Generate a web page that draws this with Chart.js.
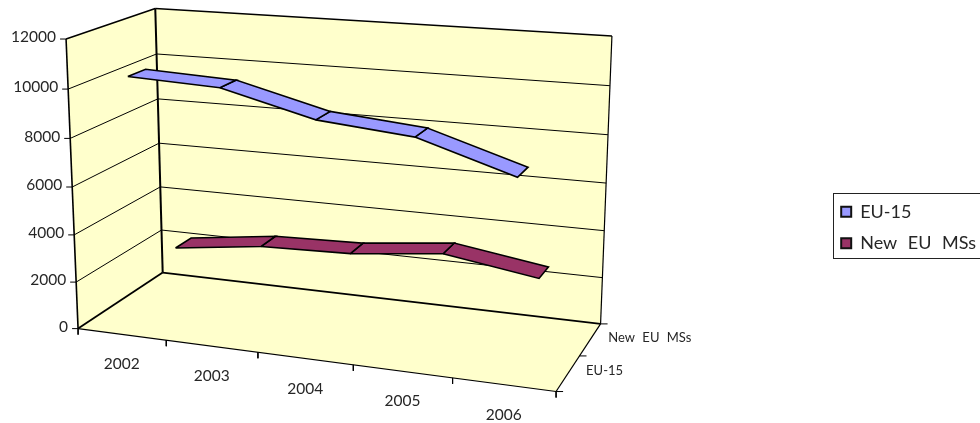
<!DOCTYPE html>
<html><head><meta charset="utf-8"><style>html,body{margin:0;background:#fff}canvas{display:block}</style>
<script src="https://cdn.jsdelivr.net/npm/chart.js@4"></script></head><body>
<canvas id="c" width="980" height="423"></canvas>
<script>
// Data
const years = ['2002', '2003', '2004', '2005', '2006'];
const seriesNames = ['EU-15', 'New EU MSs'];
const eu15 = [10400, 10230, 9260, 8910, 7710];
const newEu = [2160, 2650, 2760, 3180, 2580];
const valueTicks = [0, 2000, 4000, 6000, 8000, 10000, 12000];
const valueMax = 12000;

// Look
const wallColor = '#FFFFCC';
const ribbonColors = ['#9999FF', '#993366'];
const ribbonDepths = [[0.16, 0.36], [0.655, 0.855]];
const seriesDepths = [0.25, 0.75];
const fontFamily = 'Lato, sans-serif';
const textColor = '#262626';

// Perspective camera: (u along years, v up the values, w into the depth), each 0..1, to canvas units
const cam = [425.089232, -14.851189, 101.109942, 78.080060,
             25.653154, -291.271523, -28.373748, 328.623570,
             -0.095164, -0.042943, 0.101347];
function project(u, v, w) {
  const d = cam[8] * u + cam[9] * v + cam[10] * w + 1;
  return { x: (cam[0] * u + cam[1] * v + cam[2] * w + cam[3]) / d,
           y: (cam[4] * u + cam[5] * v + cam[6] * w + cam[7]) / d };
}
const nudge = (p, dx, dy) => ({ x: p.x + dx, y: p.y + dy });

const line = (data, width, extra) => Object.assign({
  data, borderColor: '#000', borderWidth: width, backgroundColor: 'transparent',
  pointRadius: 0, tension: 0, fill: false, clip: false, borderJoinStyle: 'miter'
}, extra);
const face = (corners) => line([...corners, corners[0]].map(c => project(...c)), 0,
  { fill: 'shape', backgroundColor: wallColor, borderColor: wallColor });
const edge = (a, b, width) => line([project(...a), project(...b)], width);

// Ribbons: one closed quad per year-to-year span
function ribbon(values, idx) {
  const [front, back] = ribbonDepths[idx];
  const spans = [];
  for (let i = 0; i < values.length - 1; i++) {
    const u0 = (i + 0.5) / years.length, u1 = (i + 1.5) / years.length;
    const v0 = values[i] / valueMax, v1 = values[i + 1] / valueMax;
    const quad = [project(u0, v0, front), project(u1, v1, front), project(u1, v1, back), project(u0, v0, back)];
    spans.push(line([...quad, quad[0]], 1.6, {
      label: seriesNames[idx], fill: 'shape', backgroundColor: ribbonColors[idx], inLegend: i === 0
    }));
  }
  return spans;
}

const datasets = [...ribbon(eu15, 0), ...ribbon(newEu, 1)];

// Heavier frame edges
datasets.push(
  edge([0, 0, 0], [0, 1, 0], 1.6), edge([0, 1, 0], [0, 1, 1], 1.6), edge([0, 1, 1], [0, 0, 1], 2),
  edge([0, 1, 1], [1, 1, 1], 1.6), edge([1, 1, 1], [1, 0, 1], 1.2), edge([0, 0, 1], [1, 0, 1], 1.8),
  edge([0, 0, 0], [0, 0, 1], 1.8), edge([0, 0, 0], [1, 0, 0], 1.1), edge([1, 0, 0], [1, 0, 1], 1.2)
);

// Gridlines wrap from the left wall onto the back wall
valueTicks.slice(1, -1).forEach(t => {
  const v = t / valueMax;
  datasets.push(line([project(0, v, 0), project(0, v, 1), project(1, v, 1)], 1));
});

// Tick marks on the three axes
valueTicks.forEach(t => {
  const p = project(0, t / valueMax, 0);
  datasets.push(line([p, nudge(p, -6, 0)], 1));
});
years.concat('').forEach((_, i) => {
  const p = project(i / years.length, 0, 0);
  datasets.push(line([p, nudge(p, 0, 6)], 1));
});
[0, 0.5, 1].forEach(w => {
  const p = project(1, 0, w);
  datasets.push(line([p, nudge(p, 7, 0)], 1));
});

// Wall fills sit underneath everything
datasets.push(
  face([[0, 0, 1], [1, 0, 1], [1, 1, 1], [0, 1, 1]]),
  face([[0, 0, 0], [0, 1, 0], [0, 1, 1], [0, 0, 1]]),
  face([[0, 0, 0], [1, 0, 0], [1, 0, 1], [0, 0, 1]])
);

// Places the legend at the right and prints the axis labels along the projected edges
const frameAndLabels = {
  id: 'frameAndLabels',
  afterLayout(chart) {
    const l = chart.legend, pad = l.options.labels.padding;
    l.left = 841.2 - pad; l.right = 985;
    l.top = 211.7 - 9 - pad; l.bottom = 400;
  },
  beforeDraw(chart) {
    chart.ctx.wordSpacing = '6px';
  },
  afterDraw(chart) {
    const { ctx, scales: { x, y } } = chart;
    const at = p => [x.getPixelForValue(p.x), y.getPixelForValue(p.y)];
    ctx.save();
    ctx.strokeStyle = '#222'; ctx.lineWidth = 1;
    ctx.strokeRect(833.5, 193.5, 160, 65);
    ctx.fillStyle = textColor;
    ctx.textBaseline = 'middle';
    ctx.font = `15.5px ${fontFamily}`;
    ctx.textAlign = 'right';
    valueTicks.forEach(t => {
      const [px, py] = at(nudge(project(0, t / valueMax, 0), -10, -1.8));
      ctx.fillText(String(t), px, py);
    });
    ctx.textAlign = 'center';
    years.forEach((name, i) => {
      const [px, py] = at(nudge(project((i + 0.5) / years.length, 0, 0), 0, 30));
      ctx.fillText(name, px, py);
    });
    ctx.textAlign = 'left';
    ctx.font = `13px ${fontFamily}`;
    ctx.wordSpacing = '4px';
    seriesNames.forEach((name, i) => {
      const [px, py] = at(nudge(project(1, 0, seriesDepths[i]), 18, -2));
      ctx.fillText(name, px, py);
    });
    ctx.restore();
  }
};

new Chart(document.getElementById('c'), {
  type: 'line',
  data: { datasets },
  plugins: [frameAndLabels],
  options: {
    responsive: false,
    animation: false,
    parsing: false,
    normalized: false,
    layout: { padding: 0 },
    scales: {
      x: { type: 'linear', display: false, min: 0, max: 980 },
      y: { type: 'linear', display: false, min: 0, max: 423, reverse: true }
    },
    plugins: {
      tooltip: { enabled: false },
      legend: {
        position: 'chartArea',
        align: 'start',
        labels: {
          boxWidth: 10,
          boxHeight: 10,
          padding: 13.6,
          color: textColor,
          font: { family: fontFamily, size: 18 },
          filter: (item, data) => data.datasets[item.datasetIndex].inLegend,
          generateLabels(chart) {
            return Chart.defaults.plugins.legend.labels.generateLabels(chart)
              .map(item => Object.assign(item, { lineWidth: 2, strokeStyle: '#111' }));
          }
        }
      }
    }
  }
});
</script></body></html>
